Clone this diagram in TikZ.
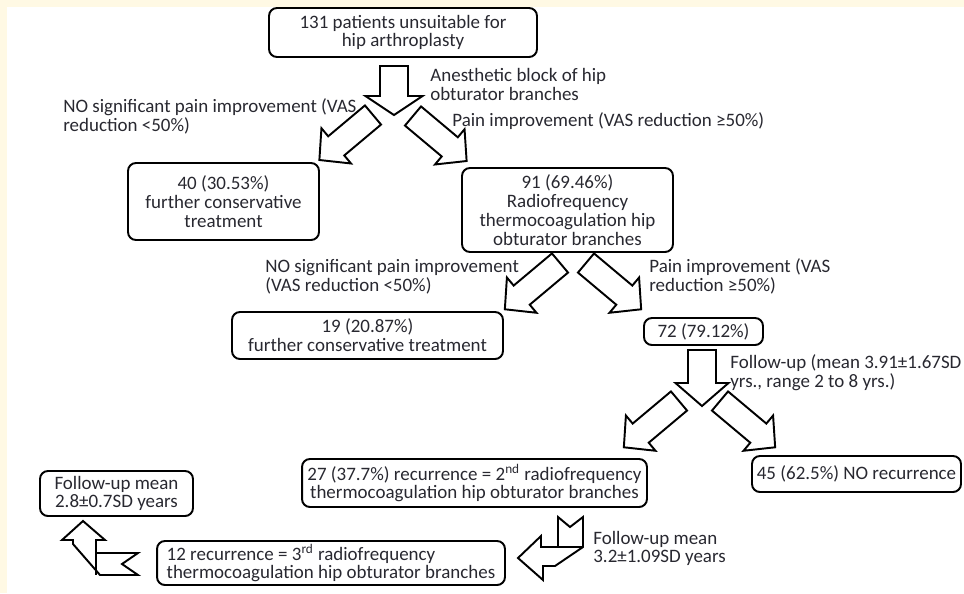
\documentclass[tikz,border=0pt]{standalone}
\usepackage{fontspec}
\setmainfont{Carlito}
\definecolor{cream}{RGB}{255,249,228}
\definecolor{txt}{RGB}{40,40,48}
% block arrow: tail x, tail y, angle, length, shaft, head width, head length
\newcommand{\blockarrow}[7]{%
  \draw[arrowline,shift={(#1,#2)},rotate=#3]
    (0,-#5/2) -- (#4-#7,-#5/2) -- (#4-#7,-#6/2) -- (#4,0)
    -- (#4-#7,#6/2) -- (#4-#7,#5/2) -- (0,#5/2) -- cycle;}
\begin{document}
\begin{tikzpicture}
    [x=0.02cm,y=-0.02cm,
    font=\fontsize{10.8pt}{10.7pt}\selectfont,text=txt,
    box/.style = {draw=black,line width=1.1pt,rounded corners=4.5pt,
                  align=center,inner sep=0pt},
    lbl/.style = {anchor=west,align=left,inner sep=0pt},
    arrowline/.style = {draw=black,line width=1.1pt,fill=white},
    seam/.style = {draw=black,line width=1.1pt}]
    \useasboundingbox (0,0) rectangle (964,593);
    \fill[cream] (0,0) rectangle (964,7);
    \fill[cream] (0,0) rectangle (7,593);
    % Boxes
    \node[box,minimum width=5.36cm,minimum height=0.98cm] (patients) at (403,32.5)
        {131 patients unsuitable for\\hip arthroplasty};
    \node[box,minimum width=3.82cm,minimum height=1.54cm] (conservA) at (223.5,201.5)
        {40 (30.53\%)\\further conservative\\treatment};
    \node[box,minimum width=4.22cm,minimum height=1.68cm] (radio) at (567.5,210)
        {91 (69.46\%)\\Radiofrequency\\thermocoagulation hip\\obturator branches};
    \node[box,minimum width=5.42cm,minimum height=0.94cm] (conservB) at (367.5,335.5)
        {19 (20.87\%)\\further conservative treatment};
    \node[box,minimum width=2.38cm,minimum height=0.54cm] (improved) at (703.5,331.5)
        {72 (79.12\%)};
    \node[box,minimum width=6.9cm,minimum height=0.96cm] (second) at (474.5,483)
        {27 (37.7\%) recurrence = 2\textsuperscript{nd} radiofrequency\\thermocoagulation hip obturator branches};
    \node[box,minimum width=4.18cm,minimum height=0.72cm] (norecur) at (856.5,474)
        {45 (62.5\%) NO recurrence};
    \node[box,minimum width=3.06cm,minimum height=0.9cm] (followC) at (116.5,493.5)
        {Follow-up mean\\2.8±0.7SD years};
    \node[box,minimum width=6.96cm,minimum height=0.88cm,align=left] (third) at (331,563)
        {12 recurrence = 3\textsuperscript{rd} radiofrequency\\thermocoagulation hip obturator branches};
    % Labels
    \node[lbl] (block) at (430,84.5) {Anesthetic block of hip\\obturator branches};
    \node[lbl] (noA) at (63,116) {NO significant pain improvement (VAS\\reduction <50\%)};
    \node[lbl] (yesA) at (452,121) {Pain improvement (VAS reduction ≥50\%)};
    \node[lbl] (noB) at (265,276.5) {NO significant pain improvement\\(VAS reduction <50\%)};
    \node[lbl] (yesB) at (649,276.5) {Pain improvement (VAS\\reduction ≥50\%)};
    \node[lbl] (followA) at (730,372.5) {Follow-up (mean 3.91±1.67SD\\yrs., range 2 to 8 yrs.)};
    \node[lbl] (followB) at (593,548.5) {Follow-up mean\\3.2±1.09SD years};
    % Block arrows
    \blockarrow{394}{66}{-90}{49}{28}{57}{19}
    \blockarrow{373}{115}{-140}{70}{25}{46}{22}
    \blockarrow{413}{116}{-40}{70}{25}{46}{22}
    \blockarrow{560}{263}{-140}{72}{25}{46}{22}
    \blockarrow{586}{263}{-40}{72}{25}{46}{22}
    \blockarrow{702}{350}{-90}{56}{28}{53}{23}
    \blockarrow{679}{401}{-140}{72}{25}{46}{22}
    \blockarrow{720}{401}{-40}{72}{25}{46}{22}
    % Bent arrows
    \draw[arrowline] (558,517) -- (570,527) -- (583,517) -- (583,547) -- (555,566)
        -- (543,566) -- (543,580) -- (518,558) -- (541,536) -- (541,547) -- (558,547) -- cycle;
    \draw[seam] (558,547) -- (583,547);
    \draw[arrowline] (83,521) -- (105,540) -- (96,540) -- (96,553) -- (138,553) -- (122,564)
        -- (138,575) -- (100,575) -- (73,544) -- (73,540) -- (62,540) -- cycle;
    \draw[seam] (96,553) -- (96,575);
\end{tikzpicture}
\end{document}
